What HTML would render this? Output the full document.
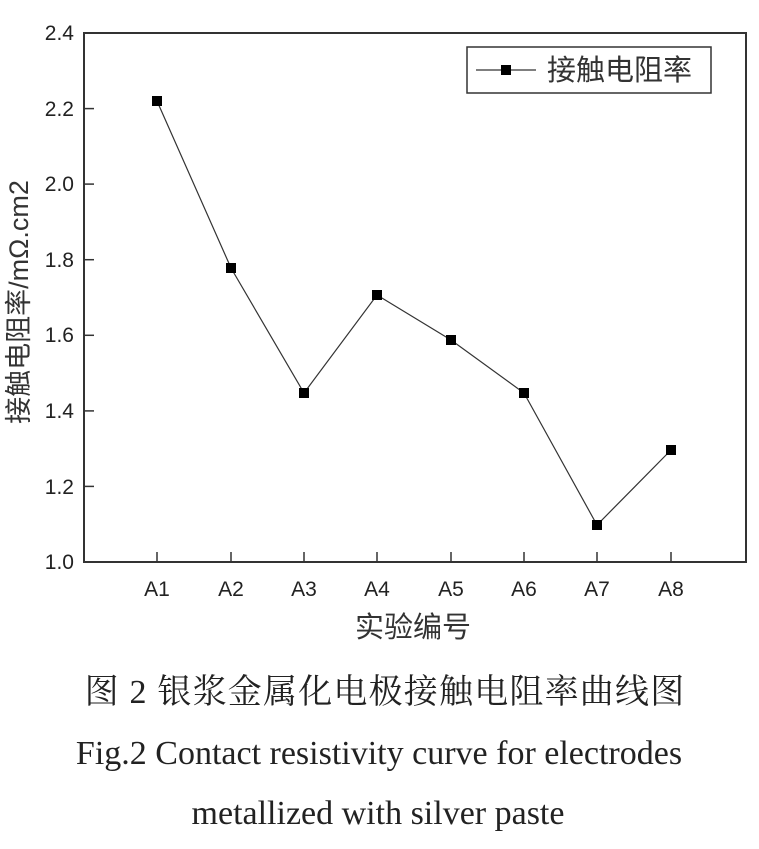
<!DOCTYPE html>
<html><head><meta charset="utf-8"><style>
body{margin:0;background:#fff;width:759px;height:844px;overflow:hidden}
</style></head><body>
<svg width="759" height="844" xmlns="http://www.w3.org/2000/svg" font-family="Liberation Sans, Noto Sans CJK SC, sans-serif">
<rect x="84" y="33" width="662" height="529" fill="none" stroke="#333" stroke-width="2"/>
<g stroke="#333" stroke-width="1.5">
<line x1="84" y1="108.6" x2="94" y2="108.6"/><line x1="84" y1="184.1" x2="94" y2="184.1"/>
<line x1="84" y1="259.7" x2="94" y2="259.7"/><line x1="84" y1="335.3" x2="94" y2="335.3"/>
<line x1="84" y1="410.9" x2="94" y2="410.9"/><line x1="84" y1="486.4" x2="94" y2="486.4"/>
<line x1="157" y1="562" x2="157" y2="552"/><line x1="231" y1="562" x2="231" y2="552"/>
<line x1="304" y1="562" x2="304" y2="552"/><line x1="377" y1="562" x2="377" y2="552"/>
<line x1="451" y1="562" x2="451" y2="552"/><line x1="524" y1="562" x2="524" y2="552"/>
<line x1="597" y1="562" x2="597" y2="552"/><line x1="671" y1="562" x2="671" y2="552"/>
</g>
<g font-size="21" fill="#222" text-anchor="end">
<text x="74" y="40">2.4</text><text x="74" y="116">2.2</text><text x="74" y="191">2.0</text>
<text x="74" y="267">1.8</text><text x="74" y="342">1.6</text><text x="74" y="418">1.4</text>
<text x="74" y="494">1.2</text><text x="74" y="569">1.0</text>
</g>
<g font-size="21" fill="#222" text-anchor="middle">
<text x="157" y="596">A1</text><text x="231" y="596">A2</text><text x="304" y="596">A3</text>
<text x="377" y="596">A4</text><text x="451" y="596">A5</text><text x="524" y="596">A6</text>
<text x="597" y="596">A7</text><text x="671" y="596">A8</text>
</g>
<text x="413" y="637" font-size="29" fill="#333" text-anchor="middle">实验编号</text>
<text transform="translate(28,302) rotate(-90)" font-size="27" fill="#333" text-anchor="middle">接触电阻率/mΩ.cm2</text>
<polyline fill="none" stroke="#333" stroke-width="1.2" points="157,101 231,268 304,393 377,295 451,340 524,393 597,525 671,450"/>
<g fill="#000">
<rect x="152" y="96" width="10" height="10"/><rect x="226" y="263" width="10" height="10"/>
<rect x="299" y="388" width="10" height="10"/><rect x="372" y="290" width="10" height="10"/>
<rect x="446" y="335" width="10" height="10"/><rect x="519" y="388" width="10" height="10"/>
<rect x="592" y="520" width="10" height="10"/><rect x="666" y="445" width="10" height="10"/>
</g>
<rect x="467" y="47" width="244" height="46" fill="#fff" stroke="#333" stroke-width="1.5"/>
<line x1="476" y1="70" x2="536" y2="70" stroke="#333" stroke-width="1.2"/>
<rect x="501" y="65" width="10" height="10" fill="#000"/>
<text x="547" y="80" font-size="29" fill="#333">接触电阻率</text>
<g font-family="Liberation Serif, Noto Serif CJK SC, serif" fill="#222" text-anchor="middle">
<text x="385" y="703" font-size="34" letter-spacing="1.2">图 2  银浆金属化电极接触电阻率曲线图</text>
<text x="379" y="764" font-size="34">Fig.2 Contact resistivity curve for electrodes</text>
<text x="378" y="824" font-size="34">metallized with silver paste</text>
</g>
</svg>
</body></html>
